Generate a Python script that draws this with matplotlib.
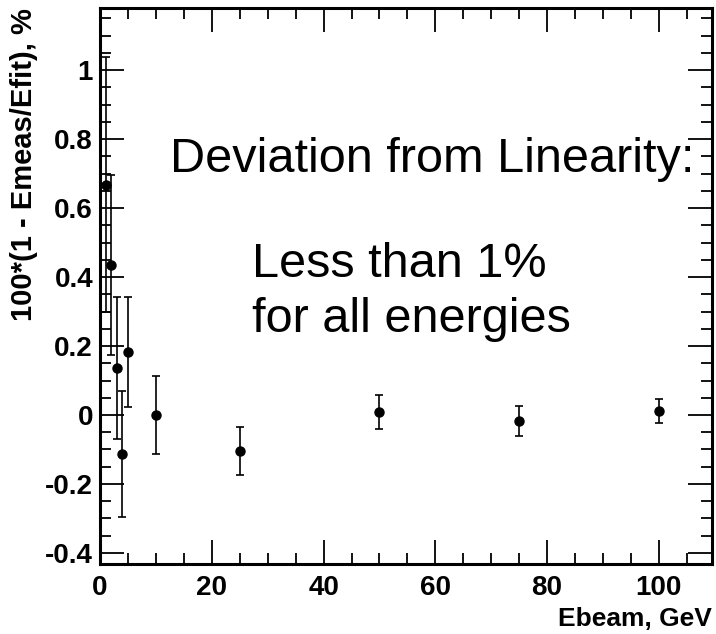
import matplotlib.pyplot as plt
from matplotlib.ticker import MultipleLocator

# beam energies and deviation from linear fit
ebeam = [1, 2, 3, 4, 5, 10, 25, 50, 75, 100]
deviation = [0.668, 0.435, 0.136, -0.113, 0.182, 0.0, -0.105, 0.008, -0.017, 0.012]
dev_err = [0.37, 0.26, 0.207, 0.183, 0.16, 0.112, 0.07, 0.05, 0.043, 0.035]

ytick_vals = [-0.4, -0.2, 0, 0.2, 0.4, 0.6, 0.8, 1]
ytick_text = ['-0.4', '-0.2', '0', '0.2', '0.4', '0.6', '0.8', '1']

plt.rcParams['font.family'] = ['Liberation Sans', 'DejaVu Sans']

fig = plt.figure(figsize=(7.16, 6.34), dpi=100)
ax = fig.add_axes([0.1397, 0.1104, 0.8547, 0.877])

ax.errorbar(ebeam, deviation, yerr=dev_err, fmt='o', color='black',
            markersize=6.5, elinewidth=1.2, capsize=3, capthick=1.2)

ax.set_xlim(0, 109.5)
ax.set_ylim(-0.432, 1.18)

ax.xaxis.set_major_locator(MultipleLocator(20))
ax.xaxis.set_minor_locator(MultipleLocator(5))
ax.yaxis.set_minor_locator(MultipleLocator(0.05))
ax.set_yticks(ytick_vals)
ax.set_yticklabels(ytick_text)

ax.tick_params(which='both', direction='in', top=True, right=True, width=1.3)
ax.tick_params(which='major', length=17, labelsize=20)
ax.tick_params(axis='x', which='major', pad=8)
ax.tick_params(axis='y', which='major', pad=5)
ax.tick_params(which='minor', length=8)
for lab in ax.get_xticklabels() + ax.get_yticklabels():
    lab.set_fontweight('bold')
for sp in ax.spines.values():
    sp.set_linewidth(2.2)

ax.set_xlabel('Ebeam, GeV', fontsize=19, fontweight='bold', loc='right',
              labelpad=4)
ax.set_ylabel('100*(1 - Emeas/Efit), %', fontsize=21, fontweight='bold',
              loc='top', labelpad=5)

# annotation text
ax.text(0.114, 0.705, 'Deviation from Linearity:', transform=ax.transAxes,
        fontsize=35, va='baseline')
ax.text(0.248, 0.516, 'Less than 1%', transform=ax.transAxes,
        fontsize=35, va='baseline')
ax.text(0.248, 0.417, 'for all energies', transform=ax.transAxes,
        fontsize=35, va='baseline')

fig.savefig('out.png', dpi=100)
